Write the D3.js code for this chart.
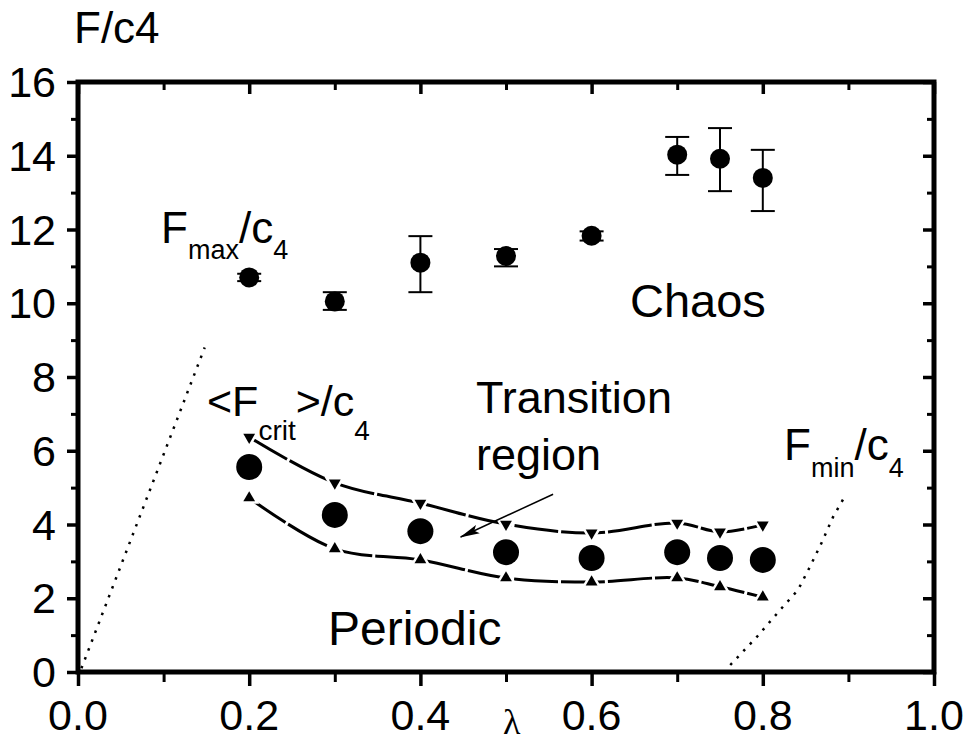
<!DOCTYPE html>
<html>
<head>
<meta charset="utf-8">
<script src="https://cdn.jsdelivr.net/npm/d3@7"></script>
<style>
  body { margin: 0; background: #fff; }
  svg text { font-family: "Liberation Sans", Arial, sans-serif; fill: #000; }
</style>
</head>
<body>
<div id="chart"></div>
<script>
const width = 969;
const height = 744;

// lambda values
const lambdas = [0.2, 0.3, 0.4, 0.5, 0.6, 0.7, 0.75, 0.8];
// F_max / c4 with error bars
const fmax    = [10.7, 10.05, 11.1, 11.28, 11.83, 14.03, 13.92, 13.4];
const fmaxLo  = [10.6, 9.82, 10.3, 11.0, 11.7, 13.48, 13.04, 12.5];
const fmaxHi  = [10.8, 10.3, 11.82, 11.47, 11.95, 14.51, 14.75, 14.16];
// <F_crit> / c4 and transition band
const fcrit   = [5.56, 4.26, 3.82, 3.25, 3.09, 3.25, 3.09, 3.04];
const bandHi  = [6.37, 5.13, 4.58, 4.01, 3.77, 4.04, 3.80, 3.99];
const bandLo  = [4.72, 3.34, 3.04, 2.55, 2.44, 2.55, 2.31, 2.03];
// dotted boundaries
const leftBoundX  = [0.004, 0.148];
const leftBoundY  = [0.1, 8.8];
const rightBoundX = [0.762, 0.793, 0.822, 0.841, 0.855, 0.869, 0.882, 0.896];
const rightBoundY = [0.19, 0.95, 1.73, 2.22, 2.85, 3.52, 4.2, 4.77];
// arrow annotation (data units)
const arrowFrom = [0.555, 4.82];
const arrowTo   = [0.447, 3.66];

const xMajor = [0, 0.2, 0.4, 0.6, 0.8, 1.0];
const xMinor = [0.1, 0.3, 0.5, 0.7, 0.9];
const yMajor = [0, 2, 4, 6, 8, 10, 12, 14, 16];
const yMinor = [1, 3, 5, 7, 9, 11, 13, 15];

const x = d3.scaleLinear().domain([0, 1]).range([78, 934]);
const y = d3.scaleLinear().domain([0, 16]).range([672, 82]);

const svg = d3.select("#chart").append("svg")
  .attr("width", width)
  .attr("height", height);

// axes ticks
function styleAxis(g, w) {
  g.select(".domain").remove();
  g.selectAll(".tick line").attr("stroke", "#000").attr("stroke-width", w);
  g.selectAll(".tick text").remove();
}
svg.append("g").attr("transform", `translate(0,${y(0)})`)
  .call(d3.axisBottom(x).tickValues(xMajor).tickSize(14))
  .call(g => styleAxis(g, 3.5));
svg.append("g").attr("transform", `translate(0,${y(0)})`)
  .call(d3.axisBottom(x).tickValues(xMinor).tickSize(10))
  .call(g => styleAxis(g, 3));
svg.append("g").attr("transform", `translate(0,${y(16)})`)
  .call(d3.axisTop(x).tickValues(xMajor).tickSize(-12))
  .call(g => styleAxis(g, 3.5));
svg.append("g").attr("transform", `translate(0,${y(16)})`)
  .call(d3.axisTop(x).tickValues(xMinor).tickSize(-8))
  .call(g => styleAxis(g, 3));
svg.append("g").attr("transform", `translate(${x(0)},0)`)
  .call(d3.axisLeft(y).tickValues(yMajor).tickSize(11))
  .call(g => styleAxis(g, 3.5));
svg.append("g").attr("transform", `translate(${x(0)},0)`)
  .call(d3.axisLeft(y).tickValues(yMinor).tickSize(7))
  .call(g => styleAxis(g, 3));
svg.append("g").attr("transform", `translate(${x(1)},0)`)
  .call(d3.axisRight(y).tickValues(yMajor).tickSize(-11))
  .call(g => styleAxis(g, 3.5));
svg.append("g").attr("transform", `translate(${x(1)},0)`)
  .call(d3.axisRight(y).tickValues(yMinor).tickSize(-7))
  .call(g => styleAxis(g, 3));

// frame
svg.append("rect")
  .attr("x", x(0)).attr("y", y(16))
  .attr("width", x(1) - x(0)).attr("height", y(0) - y(16))
  .attr("fill", "none").attr("stroke", "#000").attr("stroke-width", 5);

// tick labels
svg.append("g").selectAll("text").data(xMajor).join("text")
  .attr("x", d => x(d)).attr("y", 730)
  .attr("text-anchor", "middle").attr("font-size", 43)
  .text(d => d.toFixed(1));
svg.append("g").selectAll("text").data(yMajor).join("text")
  .attr("x", 56).attr("y", d => y(d) + 15)
  .attr("text-anchor", "end").attr("font-size", 43)
  .text(d => d);

// axis titles
svg.append("text").attr("x", 74).attr("y", 43).attr("font-size", 44).text("F/c4");
svg.append("text").attr("x", 503).attr("y", 734)
  .style("font-family", "'Liberation Serif', 'DejaVu Serif', serif")
  .attr("font-size", 36).text("λ");

// dotted boundaries
const lineGen = d3.line().x(d => x(d[0])).y(d => y(d[1]));
svg.append("path")
  .attr("d", lineGen(leftBoundX.map((v, i) => [v, leftBoundY[i]])))
  .attr("fill", "none").attr("stroke", "#000").attr("stroke-width", 2.5)
  .attr("stroke-dasharray", "2.5,7");
svg.append("path")
  .attr("d", lineGen(rightBoundX.map((v, i) => [v, rightBoundY[i]])))
  .attr("fill", "none").attr("stroke", "#000").attr("stroke-width", 2.5)
  .attr("stroke-dasharray", "2.5,7");

// transition band curves
const curveGen = d3.line().curve(d3.curveCatmullRom.alpha(0.5))
  .x(d => x(d[0])).y(d => y(d[1]));
[bandHi, bandLo].forEach(vals => {
  svg.append("path")
    .attr("d", curveGen(lambdas.map((l, i) => [l, vals[i]])))
    .attr("fill", "none").attr("stroke", "#000").attr("stroke-width", 3)
    .attr("stroke-dasharray", "44,3");
});
const tri = d3.symbol().type(d3.symbolTriangle).size(60);
svg.append("g").selectAll("path").data(lambdas).join("path")
  .attr("d", tri)
  .attr("transform", (d, i) => `translate(${x(d)},${y(bandHi[i])}) rotate(180)`)
  .attr("fill", "#000").attr("stroke", "#fff").attr("stroke-width", 5)
  .attr("paint-order", "stroke");
svg.append("g").selectAll("path").data(lambdas).join("path")
  .attr("d", tri)
  .attr("transform", (d, i) => `translate(${x(d)},${y(bandLo[i])})`)
  .attr("fill", "#000").attr("stroke", "#fff").attr("stroke-width", 5)
  .attr("paint-order", "stroke");

// F_crit points
svg.append("g").selectAll("circle").data(lambdas).join("circle")
  .attr("cx", d => x(d)).attr("cy", (d, i) => y(fcrit[i]))
  .attr("r", 13).attr("fill", "#000");

// F_max error bars + points
const eb = svg.append("g").attr("stroke", "#000").attr("stroke-width", 2);
lambdas.forEach((l, i) => {
  const cx = x(l);
  eb.append("line").attr("x1", cx).attr("x2", cx).attr("y1", y(fmaxLo[i])).attr("y2", y(fmaxHi[i]));
  eb.append("line").attr("x1", cx - 12).attr("x2", cx + 12).attr("y1", y(fmaxLo[i])).attr("y2", y(fmaxLo[i]));
  eb.append("line").attr("x1", cx - 12).attr("x2", cx + 12).attr("y1", y(fmaxHi[i])).attr("y2", y(fmaxHi[i]));
});
svg.append("g").selectAll("circle").data(lambdas).join("circle")
  .attr("cx", d => x(d)).attr("cy", (d, i) => y(fmax[i]))
  .attr("r", 10).attr("fill", "#000");

// arrow
svg.append("defs").append("marker")
  .attr("id", "head").attr("viewBox", "0 0 20 10")
  .attr("refX", 19).attr("refY", 5)
  .attr("markerWidth", 20).attr("markerHeight", 10)
  .attr("markerUnits", "userSpaceOnUse")
  .attr("orient", "auto")
  .append("path").attr("d", "M0,0.5 L20,5 L0,9.5 L4,5 Z").attr("fill", "#000");
svg.append("line")
  .attr("x1", x(arrowFrom[0])).attr("y1", y(arrowFrom[1]))
  .attr("x2", x(arrowTo[0])).attr("y2", y(arrowTo[1]))
  .attr("stroke", "#000").attr("stroke-width", 1.5)
  .attr("marker-end", "url(#head)");

// labels with subscripts
function subLabel(px, py, parts, size, subSize, drop) {
  const t = svg.append("text").attr("x", px).attr("y", py).attr("font-size", size);
  let down = false;
  parts.forEach(p => {
    const s = t.append("tspan").text(p.t);
    if (p.sub && !down) { s.attr("dy", drop).attr("font-size", subSize); down = true; }
    else if (p.sub) { s.attr("font-size", subSize); }
    else if (down) { s.attr("dy", -drop); down = false; }
  });
}
subLabel(161, 243, [{t: "F"}, {t: "max", sub: true}, {t: "/c"}, {t: "4", sub: true}], 44, 27, 16);
subLabel(207, 416, [{t: "<F"}, {t: "crit", sub: true}, {t: ">/c"}, {t: "4", sub: true}], 43, 28, 24);
subLabel(784, 460, [{t: "F"}, {t: "min", sub: true}, {t: "/c"}, {t: "4", sub: true}], 44, 27, 17);

svg.append("text").attr("x", 476).attr("y", 413).attr("font-size", 45).text("Transition");
svg.append("text").attr("x", 476).attr("y", 470).attr("font-size", 45).text("region");
svg.append("text").attr("x", 630).attr("y", 317).attr("font-size", 47).text("Chaos");
svg.append("text").attr("x", 328).attr("y", 645).attr("font-size", 48).text("Periodic");
</script>
</body>
</html>
